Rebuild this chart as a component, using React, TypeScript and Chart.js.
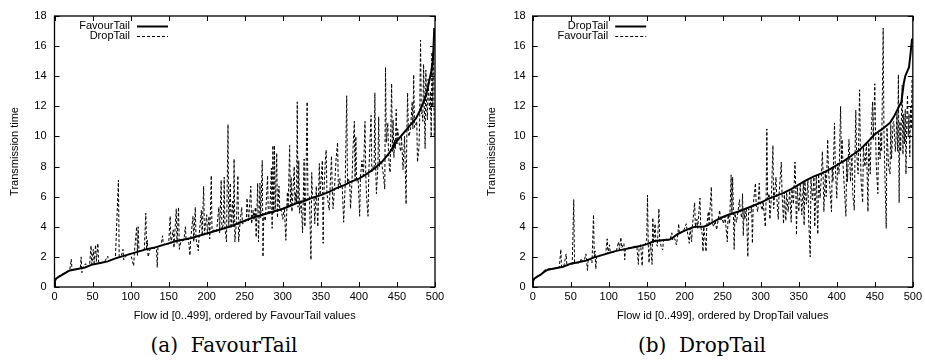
import React, { useEffect, useRef } from 'react';
import { Chart, registerables } from 'chart.js';

Chart.register(...registerables);

type Pt = [number, number];

const xTickValues = [0, 50, 100, 150, 200, 250, 300, 350, 400, 450, 500];
const yTickValues = [0, 2, 4, 6, 8, 10, 12, 14, 16, 18];
const yAxisTitle = 'Transmission time';

// Panel (a): sorted by FavourTail
const leftSolidLabel = 'FavourTail';
const leftDashedLabel = 'DropTail';
const leftXTitle = 'Flow id [0..499], ordered by FavourTail values';
const leftCaption = '(a)  FavourTail';

const leftFavourTail: Pt[] = [
  [0, 0.3], [1, 0.45], [2, 0.55], [5, 0.65], [10, 0.8], [15, 0.95], [20, 1.1], [30, 1.2], [40, 1.3],
  [50, 1.5], [60, 1.6], [70, 1.7], [80, 1.9], [90, 2.05], [100, 2.2], [110, 2.35], [120, 2.5],
  [130, 2.6], [140, 2.75], [150, 2.9], [160, 3.05], [170, 3.15], [180, 3.25], [190, 3.4], [200, 3.55],
  [210, 3.7], [220, 3.85], [230, 4.0], [240, 4.2], [250, 4.4], [260, 4.6], [270, 4.75], [280, 4.9],
  [290, 5.05], [300, 5.2], [310, 5.4], [320, 5.6], [330, 5.75], [340, 5.95], [350, 6.1], [360, 6.3],
  [370, 6.55], [380, 6.75], [390, 7.0], [400, 7.2], [410, 7.5], [420, 7.85], [430, 8.3], [440, 8.9],
  [450, 9.7], [460, 10.3], [470, 10.9], [475, 11.2], [480, 11.7], [485, 12.3], [490, 13.1],
  [495, 14.3], [497, 15.0], [498, 15.8], [499, 17.2],
];

const leftDropTail: Pt[] = [
  [0, 0.4], [5, 0.7], [10, 0.85], [15, 1.0], [20, 1.1], [22, 1.85], [23, 1.15], [28, 1.2], [34, 1.25],
  [35, 2.0], [36, 0.95], [37, 1.3], [41, 1.55], [42, 1.35], [46, 1.4], [48, 2.75], [49, 1.5], [51, 2.5],
  [52, 1.6], [54, 2.8], [55, 1.7], [57, 2.9], [58, 1.6], [62, 1.6], [66, 1.7], [70, 2.05], [71, 1.75],
  [76, 1.8], [80, 1.9], [84, 7.1], [85, 2.0], [88, 2.1], [90, 2.5], [91, 1.8], [95, 2.15], [100, 2.2],
  [104, 1.4], [105, 2.3], [108, 4.0], [109, 2.1], [110, 4.0], [111, 2.4], [115, 2.4], [118, 2.5],
  [120, 4.9], [121, 2.5], [122, 3.1], [123, 2.0], [126, 2.6], [130, 2.6], [134, 2.5], [135, 1.3],
  [136, 2.7], [140, 2.75], [142, 3.4], [143, 2.8], [146, 2.9], [150, 2.85], [152, 4.7], [153, 2.9],
  [156, 3.8], [157, 2.6], [160, 5.2], [161, 2.9], [163, 5.3], [164, 2.5], [166, 3.0], [170, 3.1],
  [172, 4.0], [173, 3.1], [176, 3.2], [178, 2.1], [179, 3.2], [182, 4.7], [183, 3.0], [185, 5.3],
  [186, 3.2], [189, 2.4], [190, 3.4], [193, 5.1], [194, 3.4], [196, 6.7], [197, 3.5], [200, 4.8],
  [201, 3.5], [203, 4.7], [204, 3.2], [206, 7.4], [207, 3.7], [210, 3.8], [213, 3.7], [216, 5.3],
  [217, 3.6], [219, 7.1], [220, 3.8], [222, 4.2], [223, 7.3], [224, 3.9], [226, 3.0], [228, 10.8],
  [229, 4.0], [231, 6.9], [232, 3.9], [234, 5.7], [235, 4.0], [236, 8.5], [237, 3.0], [239, 4.3],
  [241, 7.4], [242, 3.0], [244, 4.4], [246, 5.3], [247, 4.2], [250, 4.3], [252, 4.4], [253, 5.9],
  [255, 4.4], [258, 6.7], [259, 4.2], [261, 5.1], [262, 4.5], [264, 5.3], [265, 3.3], [267, 6.9],
  [268, 3.0], [270, 6.9], [271, 4.6], [273, 8.4], [274, 2.0], [275, 4.7], [277, 4.4], [280, 7.4],
  [281, 4.8], [283, 4.9], [285, 7.9], [286, 3.9], [287, 9.4], [288, 4.9], [289, 9.4], [290, 5.0],
  [292, 8.9], [293, 4.6], [295, 6.7], [296, 5.1], [298, 5.1], [300, 4.5], [302, 5.3], [304, 3.1],
  [306, 6.3], [307, 5.3], [309, 9.4], [310, 5.4], [311, 7.3], [312, 5.0], [315, 8.0], [316, 5.5],
  [317, 6.3], [318, 5.6], [319, 12.3], [320, 5.3], [321, 8.4], [322, 4.9], [324, 5.8], [326, 3.6],
  [328, 8.5], [329, 4.0], [330, 5.8], [332, 12.3], [333, 5.8], [335, 6.0], [337, 1.8], [338, 7.6],
  [339, 5.9], [341, 6.0], [342, 4.2], [344, 6.7], [345, 5.2], [346, 4.0], [348, 8.2], [349, 6.1],
  [352, 8.4], [353, 2.9], [354, 6.2], [356, 8.5], [357, 9.1], [358, 6.2], [361, 5.1], [362, 6.4],
  [364, 8.7], [365, 6.5], [366, 5.2], [368, 6.6], [370, 8.5], [372, 9.6], [373, 6.5], [375, 7.2],
  [376, 6.6], [378, 6.8], [380, 4.3], [382, 6.8], [384, 12.7], [385, 6.9], [386, 7.2], [388, 6.9],
  [389, 5.2], [391, 7.1], [392, 8.9], [394, 11.0], [395, 7.1], [396, 10.0], [397, 7.0], [399, 7.2],
  [401, 4.7], [402, 7.3], [404, 8.4], [406, 7.4], [408, 11.0], [409, 7.5], [410, 6.0], [412, 4.7],
  [413, 7.6], [416, 11.4], [417, 7.6], [418, 8.0], [420, 7.8], [421, 12.9], [422, 8.0], [423, 6.2],
  [425, 8.1], [426, 11.3], [427, 8.0], [428, 8.4], [430, 8.2], [432, 7.5], [434, 6.5], [435, 14.6],
  [436, 9.6], [438, 10.9], [439, 8.8], [440, 8.0], [441, 7.6], [443, 13.5], [444, 9.0], [445, 11.1],
  [446, 8.6], [447, 9.8], [448, 9.2], [449, 11.8], [450, 9.5], [451, 10.5], [453, 9.5], [455, 9.0],
  [456, 10.0], [458, 7.8], [460, 10.0], [462, 5.5], [463, 10.2], [464, 12.9], [465, 10.2], [466, 10.0],
  [468, 10.6], [470, 12.3], [471, 10.5], [472, 14.1], [473, 10.6], [474, 10.7], [476, 11.0], [477, 8.3],
  [479, 9.3], [480, 11.5], [481, 16.4], [482, 11.5], [483, 11.6], [484, 11.0], [485, 14.8], [486, 12.0],
  [487, 9.2], [488, 14.4], [489, 12.0], [490, 11.1], [491, 13.8], [492, 12.5], [493, 11.8], [494, 13.0],
  [495, 10.0], [496, 15.6], [497, 12.0], [498, 16.5], [499, 10.0],
];

// Panel (b): sorted by DropTail
const rightSolidLabel = 'DropTail';
const rightDashedLabel = 'FavourTail';
const rightXTitle = 'Flow id [0..499], ordered by DropTail values';
const rightCaption = '(b)  DropTail';

const rightDropTail: Pt[] = [
  [0, 0.35], [1, 0.45], [2, 0.55], [5, 0.65], [10, 0.8], [15, 1.0], [20, 1.15], [30, 1.25], [40, 1.35],
  [50, 1.55], [60, 1.65], [70, 1.75], [80, 1.95], [90, 2.1], [100, 2.25], [110, 2.4], [120, 2.5],
  [130, 2.6], [140, 2.7], [150, 2.85], [160, 3.05], [170, 3.1], [180, 3.15], [185, 3.3], [190, 3.5],
  [200, 3.75], [210, 3.95], [215, 4.0], [225, 4.0], [230, 4.1], [240, 4.4], [250, 4.65], [260, 4.85],
  [270, 5.0], [280, 5.2], [290, 5.4], [300, 5.6], [310, 5.85], [320, 6.05], [330, 6.25], [340, 6.5],
  [350, 6.8], [360, 7.1], [370, 7.35], [380, 7.55], [390, 7.8], [400, 8.1], [410, 8.4], [420, 8.75],
  [430, 9.1], [440, 9.6], [450, 10.15], [460, 10.5], [470, 10.9], [475, 11.3], [480, 11.8],
  [485, 12.3], [488, 13.5], [490, 14.0], [495, 14.6], [497, 15.5], [499, 16.5],
];

const rightFavourTail: Pt[] = [
  [0, 0.4], [5, 0.7], [10, 0.8], [15, 1.1], [20, 1.2], [25, 1.2], [30, 1.25], [35, 1.3], [37, 2.5],
  [38, 1.3], [41, 1.4], [44, 2.2], [45, 1.4], [48, 1.5], [52, 1.5], [54, 5.8], [55, 1.6], [58, 1.6],
  [62, 1.6], [64, 1.9], [65, 1.7], [68, 1.8], [70, 2.2], [71, 1.7], [72, 1.1], [73, 1.8], [76, 1.9],
  [78, 1.6], [80, 4.8], [81, 2.0], [82, 2.4], [83, 1.2], [84, 2.0], [88, 2.1], [92, 2.1], [96, 2.2],
  [98, 3.2], [99, 2.2], [101, 2.8], [102, 2.3], [106, 2.3], [110, 2.4], [113, 3.0], [114, 2.5],
  [116, 3.3], [117, 2.6], [120, 2.9], [121, 1.8], [122, 2.5], [126, 2.6], [130, 2.6], [134, 2.7],
  [137, 2.7], [139, 1.5], [140, 2.7], [142, 2.8], [144, 1.4], [145, 2.7], [148, 2.8], [150, 3.2],
  [151, 6.1], [152, 2.8], [153, 1.6], [155, 3.0], [157, 1.5], [158, 4.6], [159, 2.9], [161, 4.2],
  [162, 3.0], [164, 2.7], [166, 5.2], [167, 3.1], [169, 2.7], [171, 2.45], [172, 3.1], [175, 3.2],
  [178, 3.1], [181, 3.2], [183, 3.6], [184, 3.1], [187, 3.2], [189, 2.8], [191, 3.5], [192, 4.2],
  [193, 3.5], [196, 3.7], [199, 3.8], [202, 4.2], [203, 3.8], [206, 2.9], [207, 3.9], [209, 3.0],
  [210, 4.0], [213, 5.6], [214, 4.0], [216, 4.5], [217, 3.9], [220, 5.9], [221, 4.0], [223, 3.5],
  [224, 2.35], [225, 4.0], [227, 3.0], [228, 2.35], [229, 4.1], [231, 5.0], [232, 4.2], [235, 6.65],
  [236, 4.3], [238, 4.0], [240, 4.4], [242, 3.8], [244, 4.5], [246, 5.1], [247, 4.4], [249, 4.6],
  [251, 4.2], [253, 4.7], [256, 3.0], [257, 4.8], [259, 4.2], [261, 7.45], [262, 4.8], [263, 7.3],
  [264, 4.9], [265, 2.5], [266, 4.9], [268, 4.3], [270, 5.0], [272, 5.8], [273, 5.0], [275, 4.6],
  [276, 6.2], [277, 3.4], [278, 5.1], [279, 4.5], [281, 5.2], [283, 2.0], [284, 5.2], [286, 4.9],
  [288, 5.3], [289, 2.9], [290, 5.4], [293, 6.9], [294, 5.4], [296, 5.0], [298, 6.9], [299, 5.6],
  [302, 5.1], [303, 5.7], [306, 4.0], [307, 5.8], [308, 10.5], [309, 5.8], [311, 6.2], [312, 4.5],
  [314, 6.0], [316, 9.4], [317, 5.2], [318, 6.0], [320, 7.3], [321, 6.0], [323, 4.5], [324, 6.1],
  [327, 8.3], [328, 6.2], [330, 4.2], [331, 6.3], [333, 4.4], [334, 6.3], [336, 5.0], [338, 6.4],
  [340, 4.3], [341, 6.5], [343, 5.5], [345, 8.3], [346, 6.6], [347, 3.45], [348, 6.7], [350, 5.0],
  [352, 6.8], [354, 4.8], [356, 6.9], [357, 4.1], [358, 7.0], [360, 5.5], [362, 7.1], [363, 4.5],
  [365, 2.0], [366, 7.2], [368, 5.8], [370, 7.3], [371, 4.0], [373, 7.4], [375, 3.5], [376, 7.5],
  [378, 5.9], [380, 7.6], [381, 9.0], [382, 7.5], [383, 5.0], [385, 7.7], [386, 6.0], [388, 9.8],
  [389, 7.8], [391, 6.5], [393, 5.0], [394, 7.9], [395, 7.0], [397, 10.9], [398, 8.0], [400, 5.9],
  [401, 8.2], [403, 7.5], [405, 12.0], [406, 8.3], [407, 9.8], [408, 8.3], [410, 6.5], [412, 4.7],
  [413, 8.5], [414, 7.0], [416, 9.8], [417, 8.6], [418, 7.0], [420, 8.8], [421, 6.2], [423, 5.1],
  [424, 8.9], [425, 11.75], [426, 9.0], [428, 7.5], [430, 13.1], [431, 9.1], [432, 7.0], [434, 5.6],
  [435, 9.3], [437, 8.0], [439, 9.5], [441, 5.0], [442, 9.6], [444, 7.5], [445, 9.8], [447, 12.3],
  [448, 9.8], [450, 13.5], [451, 10.1], [452, 8.0], [454, 6.2], [455, 10.2], [457, 8.5], [458, 10.3],
  [459, 9.0], [461, 17.2], [462, 10.5], [463, 8.0], [465, 3.9], [466, 10.6], [468, 8.0], [470, 7.5],
  [471, 10.8], [472, 8.5], [474, 10.9], [475, 11.0], [477, 9.0], [478, 10.0], [479, 11.5], [480, 9.0],
  [481, 14.1], [482, 5.6], [483, 11.0], [484, 9.0], [486, 13.4], [487, 8.8], [488, 11.5], [489, 9.5],
  [490, 11.8], [491, 7.5], [492, 11.0], [493, 12.75], [494, 10.0], [495, 11.5], [496, 8.65],
  [497, 12.0], [498, 10.5], [499, 13.9],
];

const SANS = "'Liberation Sans', Arial, Helvetica, sans-serif";
const SERIF = "'DejaVu Serif', 'Liberation Serif', serif";
const FONT_SIZE = 11;

const gnuplotPlugin = {
  id: 'gnuplotFrame',
  afterDatasetsDraw(chart: any) {
    const { ctx, chartArea: a, scales } = chart;
    ctx.save();
    ctx.strokeStyle = '#000';
    ctx.lineWidth = 1;
    ctx.setLineDash([]);
    const tl = 5;
    ctx.beginPath();
    for (const v of xTickValues) {
      const px = Math.round(scales.x.getPixelForValue(v)) + 0.5;
      ctx.moveTo(px, a.bottom);
      ctx.lineTo(px, a.bottom - tl);
      ctx.moveTo(px, a.top);
      ctx.lineTo(px, a.top + tl);
    }
    for (const v of yTickValues) {
      const py = Math.round(scales.y.getPixelForValue(v)) + 0.5;
      ctx.moveTo(a.left, py);
      ctx.lineTo(a.left + tl, py);
      ctx.moveTo(a.right, py);
      ctx.lineTo(a.right - tl, py);
    }
    ctx.stroke();
    ctx.lineWidth = 1.3;
    ctx.strokeRect(a.left, a.top, a.right - a.left, a.bottom - a.top);

    // gnuplot-style key: label right-aligned, then line sample
    ctx.font = `${FONT_SIZE}px ${SANS}`;
    ctx.fillStyle = '#000';
    ctx.textAlign = 'right';
    ctx.textBaseline = 'middle';
    chart.data.datasets.forEach((ds: any, i: number) => {
      const y = a.top + 9.5 + i * 10.3;
      ctx.fillText(ds.label, a.left + 75.5, y);
      ctx.beginPath();
      ctx.lineWidth = ds.borderWidth;
      ctx.setLineDash(ds.borderDash || []);
      ctx.moveTo(a.left + 82.5, Math.round(y) + 0.5);
      ctx.lineTo(a.left + 113.5, Math.round(y) + 0.5);
      ctx.stroke();
    });
    ctx.restore();
  },
};

interface PanelProps {
  left: number;
  width: number;
  height: number;
  yAxisWidth: number;
  padRight: number;
  yTitlePad: number;
  yTickPad: number;
  solid: Pt[];
  dashed: Pt[];
  solidLabel: string;
  dashedLabel: string;
  xTitle: string;
}

function Panel(p: PanelProps) {
  const ref = useRef<HTMLCanvasElement | null>(null);
  useEffect(() => {
    if (!ref.current) return;
    const font = { family: SANS, size: FONT_SIZE };
    const chart = new Chart(ref.current, {
      type: 'line',
      data: {
        datasets: [
          {
            label: p.solidLabel,
            data: p.solid.map(([x, y]) => ({ x, y })),
            borderColor: '#000',
            borderWidth: 2,
            pointRadius: 0,
            fill: false,
            tension: 0,
            order: 1,
          },
          {
            label: p.dashedLabel,
            data: p.dashed.map(([x, y]) => ({ x, y })),
            borderColor: '#000',
            borderWidth: 1,
            borderDash: [3, 2],
            pointRadius: 0,
            fill: false,
            tension: 0,
            order: 0,
          },
        ],
      },
      options: {
        responsive: false,
        animation: false,
        events: [],
        layout: { padding: { left: 0, top: 16, right: p.padRight, bottom: 0 } },
        plugins: { legend: { display: false }, tooltip: { enabled: false } },
        scales: {
          x: {
            type: 'linear',
            min: 0,
            max: 500,
            afterBuildTicks: (axis: any) => {
              axis.ticks = xTickValues.map((v) => ({ value: v }));
            },
            afterFit: (s: any) => {
              s.height = 43;
            },
            grid: { display: false, drawTicks: false },
            border: { display: false },
            ticks: { color: '#000', font, padding: 3, maxRotation: 0, autoSkip: false },
            title: {
              display: true,
              text: p.xTitle,
              color: '#000',
              font,
              padding: { top: 0, bottom: 7.4 },
            },
          },
          y: {
            type: 'linear',
            min: 0,
            max: 18,
            afterBuildTicks: (axis: any) => {
              axis.ticks = yTickValues.map((v) => ({ value: v }));
            },
            afterFit: (s: any) => {
              s.width = p.yAxisWidth;
            },
            grid: { display: false, drawTicks: false },
            border: { display: false },
            ticks: { color: '#000', font, padding: p.yTickPad, autoSkip: false },
            title: {
              display: true,
              text: yAxisTitle,
              color: '#000',
              font,
              padding: { top: p.yTitlePad, bottom: 0 },
            },
          },
        },
      } as any,
      plugins: [gnuplotPlugin],
    });
    return () => chart.destroy();
  }, []);
  return (
    <canvas
      ref={ref}
      width={p.width}
      height={p.height}
      style={{ position: 'absolute', left: p.left, top: 0, width: p.width, height: p.height }}
    />
  );
}

function Caption({ text, center }: { text: string; center: number }) {
  return (
    <div
      style={{
        position: 'absolute',
        left: center - 150,
        width: 300,
        top: 333,
        textAlign: 'center',
        fontFamily: SERIF,
        fontSize: 20,
        lineHeight: '24px',
        color: '#000',
        whiteSpace: 'pre',
      }}
    >
      {text}
    </div>
  );
}

export default function App() {
  return (
    <div
      style={{
        position: 'fixed',
        left: 0,
        top: 0,
        width: 925,
        height: 364,
        background: '#fff',
        overflow: 'hidden',
      }}
    >
      <Panel
        left={0}
        width={462}
        height={330}
        yAxisWidth={54.5}
        padRight={27}
        yTitlePad={8.4}
        yTickPad={8}
        solid={leftFavourTail}
        dashed={leftDropTail}
        solidLabel={leftSolidLabel}
        dashedLabel={leftDashedLabel}
        xTitle={leftXTitle}
      />
      <Panel
        left={462}
        width={463}
        height={330}
        yAxisWidth={70.7}
        padRight={11.7}
        yTitlePad={23.1}
        yTickPad={7}
        solid={rightDropTail}
        dashed={rightFavourTail}
        solidLabel={rightSolidLabel}
        dashedLabel={rightDashedLabel}
        xTitle={rightXTitle}
      />
      <Caption text={leftCaption} center={224} />
      <Caption text={rightCaption} center={702} />
    </div>
  );
}
